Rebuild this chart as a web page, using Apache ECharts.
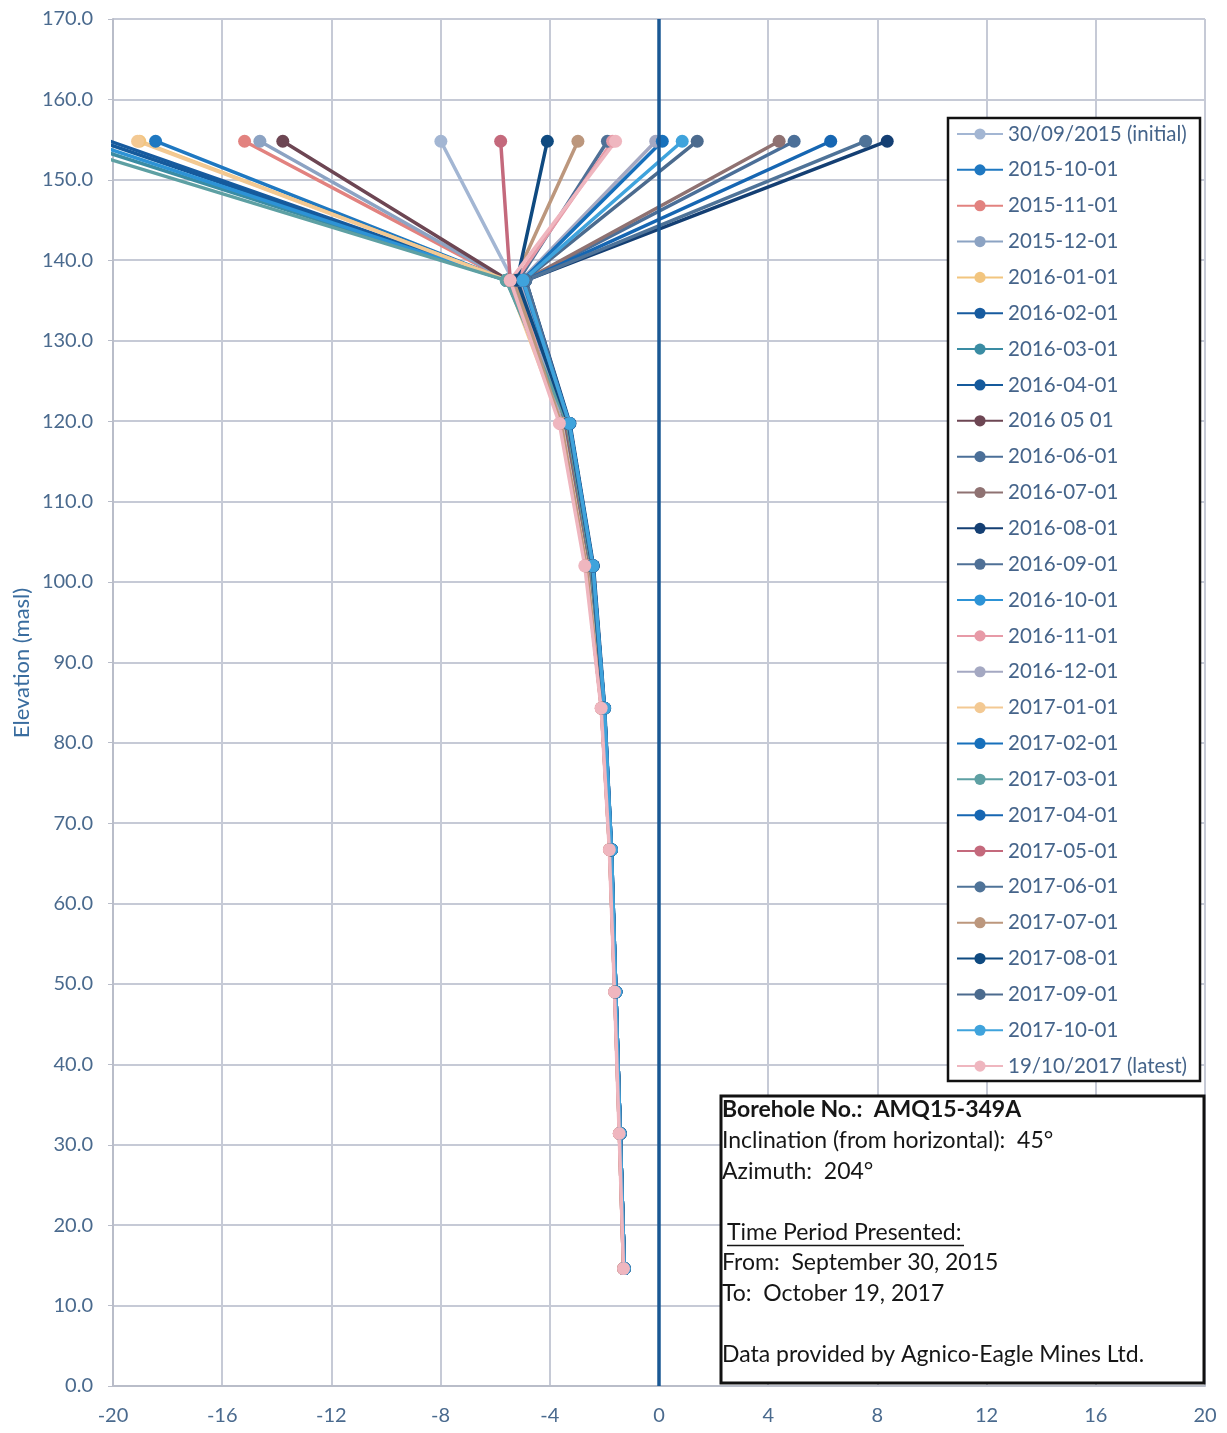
<!DOCTYPE html>
<html>
<head>
<meta charset="utf-8">
<script src="https://cdn.jsdelivr.net/npm/echarts@6/dist/echarts.min.js"></script>
<style>html,body{margin:0;padding:0;background:#fff;}#c{width:1227px;height:1433px;}</style>
</head>
<body>
<div id="c"></div>
<script>
// Elevation (masl) of each survey point (shared by all readings)
const elevations = [154.8, 137.5, 119.7, 102.0, 84.3, 66.7, 49.0, 31.4, 14.6];

// Series names (legend order)
const seriesNames = [
  '30/09/2015 (initial)','2015-10-01','2015-11-01','2015-12-01','2016-01-01','2016-02-01',
  '2016-03-01','2016-04-01','2016 05 01','2016-06-01','2016-07-01','2016-08-01','2016-09-01',
  '2016-10-01','2016-11-01','2016-12-01','2017-01-01','2017-02-01','2017-03-01','2017-04-01',
  '2017-05-01','2017-06-01','2017-07-01','2017-08-01','2017-09-01','2017-10-01','19/10/2017 (latest)'
];

// Horizontal offset (m) at each elevation, one array per reading
const x_20150930 = [-7.99, -5.35, -3.45, -2.55, -2.05, -1.78, -1.60, -1.43, -1.28];
const x_20151001 = [-18.44, -5.55, -3.28, -2.42, -2.00, -1.74, -1.58, -1.42, -1.27];
const x_20151101 = [-15.18, -5.55, -3.50, -2.60, -2.08, -1.80, -1.61, -1.44, -1.29];
const x_20151201 = [-14.62, -5.55, -3.40, -2.52, -2.04, -1.77, -1.60, -1.43, -1.28];
const x_20160101 = [-19.02, -5.55, -3.45, -2.55, -2.05, -1.78, -1.60, -1.43, -1.28];
const x_20160201 = [-20.10, -5.58, -3.30, -2.44, -2.01, -1.75, -1.58, -1.42, -1.27];
const x_20160301 = [-21.50, -5.58, -3.32, -2.45, -2.02, -1.75, -1.59, -1.42, -1.27];
const x_20160401 = [-20.50, -5.58, -3.28, -2.42, -2.00, -1.74, -1.58, -1.42, -1.27];
const x_20160501 = [-13.78, -5.52, -3.50, -2.60, -2.08, -1.80, -1.61, -1.44, -1.29];
const x_20160601 = [4.95, -4.90, -3.30, -2.44, -2.01, -1.75, -1.58, -1.42, -1.27];
const x_20160701 = [4.40, -4.92, -3.40, -2.52, -2.04, -1.77, -1.60, -1.43, -1.28];
const x_20160801 = [8.36, -4.88, -3.26, -2.40, -1.99, -1.74, -1.58, -1.42, -1.27];
const x_20160901 = [-1.89, -5.15, -3.35, -2.48, -2.02, -1.76, -1.59, -1.42, -1.27];
const x_20161001 = [-21.00, -5.58, -3.30, -2.44, -2.01, -1.75, -1.58, -1.42, -1.27];
const x_20161101 = [-1.70, -5.25, -3.60, -2.68, -2.11, -1.81, -1.62, -1.45, -1.30];
const x_20161201 = [-0.12, -5.05, -3.55, -2.65, -2.10, -1.80, -1.62, -1.45, -1.30];
const x_20170101 = [-19.10, -5.55, -3.58, -2.66, -2.10, -1.81, -1.62, -1.45, -1.30];
const x_20170201 = [0.12, -5.00, -3.30, -2.44, -2.01, -1.75, -1.58, -1.42, -1.27];
const x_20170301 = [-22.30, -5.60, -3.35, -2.48, -2.02, -1.76, -1.59, -1.42, -1.27];
const x_20170401 = [6.29, -4.90, -3.28, -2.42, -2.00, -1.74, -1.58, -1.42, -1.27];
const x_20170501 = [-5.80, -5.45, -3.60, -2.68, -2.11, -1.81, -1.62, -1.45, -1.30];
const x_20170601 = [7.57, -4.88, -3.30, -2.44, -2.01, -1.75, -1.58, -1.42, -1.27];
const x_20170701 = [-2.97, -5.30, -3.60, -2.68, -2.11, -1.81, -1.62, -1.45, -1.30];
const x_20170801 = [-4.09, -5.20, -3.32, -2.45, -2.02, -1.75, -1.59, -1.42, -1.27];
const x_20170901 = [1.40, -4.95, -3.30, -2.44, -2.01, -1.75, -1.58, -1.42, -1.27];
const x_20171001 = [0.85, -4.98, -3.28, -2.42, -2.00, -1.74, -1.58, -1.42, -1.27];
const x_20171019 = [-1.59, -5.45, -3.65, -2.72, -2.12, -1.82, -1.63, -1.46, -1.30];

const seriesX = [x_20150930,x_20151001,x_20151101,x_20151201,x_20160101,x_20160201,x_20160301,
  x_20160401,x_20160501,x_20160601,x_20160701,x_20160801,x_20160901,x_20161001,x_20161101,
  x_20161201,x_20170101,x_20170201,x_20170301,x_20170401,x_20170501,x_20170601,x_20170701,
  x_20170801,x_20170901,x_20171001,x_20171019];

const seriesColors = ['#a3b6d3','#1f78c1','#e2827f','#8ca3c3','#f2c57f','#175b9f','#3a8ca3',
  '#155a9c','#6d4653','#4b6f98','#8f7272','#143f73','#4f7096','#2d93d6','#e79aa7','#a4a8c2',
  '#f3c993','#1770bb','#5ea0a3','#1666b2','#c4697c','#4f7398','#bc977d','#0f4a80','#4c6b8e',
  '#3fa3dc','#efb6bf'];

const xTicks = {min: -20, max: 20, interval: 4};
const yTicks = {min: 0, max: 170, interval: 10};

const FONT = 'Lato, "Open Sans", sans-serif';
const chart = echarts.init(document.getElementById('c'), null, {renderer: 'canvas'});

const series = seriesNames.map((name, i) => {
  const s = {
    name: name,
    type: 'line',
    data: seriesX[i].map((x, k) => [x, elevations[k]]),
    symbol: 'circle',
    symbolSize: 13,
    showSymbol: true,
    clip: true,
    color: seriesColors[i],
    lineStyle: {width: 3.5, color: seriesColors[i]},
    itemStyle: {color: seriesColors[i]},
    emphasis: {disabled: true},
    z: 2
  };
  if (i === 0) {
    s.markLine = {
      silent: true, symbol: 'none',
      label: {show: false},
      lineStyle: {color: '#1a5894', width: 3.5, type: 'solid'},
      data: [{xAxis: 0}]
    };
  }
  return s;
});

const boxX = 721, boxY = 1096, lh = 30.6;
const infoLines = [
  {t: 'Borehole No.:  AMQ15-349A', bold: true, y: 0},
  {t: 'Inclination (from horizontal):  45°', y: 1},
  {t: 'Azimuth:  204°', y: 2},
  {t: 'Time Period Presented:', y: 4, u: true},
  {t: 'From:  September 30, 2015', y: 5},
  {t: 'To:  October 19, 2017', y: 6},
  {t: 'Data provided by Agnico-Eagle Mines Ltd.', y: 8}
];

const graphics = [
  {type: 'rect', z: 3, shape: {x: 948, y: 118, width: 252, height: 963},
   style: {fill: '#fff', stroke: '#111', lineWidth: 2.5}},
  {type: 'rect', z: 10, shape: {x: boxX, y: boxY, width: 483, height: 287},
   style: {fill: '#fff', stroke: '#111', lineWidth: 3}},
  {type: 'text', z: 11, x: 22, y: 663, rotation: Math.PI / 2,
   style: {text: 'Elevation (masl)', fill: '#3a6d9f', font: '22px ' + FONT,
           textAlign: 'center', textVerticalAlign: 'middle'}}
];
infoLines.forEach(l => {
  graphics.push({type: 'text', z: 11, x: boxX + (l.u ? 6 : 1), y: boxY + 14 + l.y * lh,
    style: {text: l.t, fill: '#161616', font: (l.bold ? 'bold ' : '') + '23px ' + FONT,
            textVerticalAlign: 'middle'}});
});
graphics.push({type: 'line', z: 11,
  shape: {x1: boxX + 6, y1: boxY + 14 + 4 * lh + 13, x2: boxX + 243, y2: boxY + 14 + 4 * lh + 13},
  style: {stroke: '#161616', lineWidth: 1.5}});

chart.setOption({
  animation: false,
  backgroundColor: '#fff',
  grid: {left: 113, right: 22, top: 19, bottom: 47, containLabel: false},
  xAxis: {
    type: 'value', min: xTicks.min, max: xTicks.max, interval: xTicks.interval,
    axisLine: {show: true, onZero: false, lineStyle: {color: '#b9bdc9', width: 2}},
    axisTick: {show: false},
    axisLabel: {color: '#4a6a8e', fontSize: 20, fontFamily: FONT, margin: 20},
    splitLine: {show: true, lineStyle: {color: '#c6cad6', width: 2}}
  },
  yAxis: {
    type: 'value', min: yTicks.min, max: yTicks.max, interval: yTicks.interval,
    axisLine: {show: true, onZero: false, lineStyle: {color: '#b9bdc9', width: 2}},
    axisTick: {show: true, length: 5, lineStyle: {color: '#b9bdc9'}},
    axisLabel: {color: '#4a6a8e', fontSize: 20, fontFamily: FONT, margin: 20,
                formatter: v => v.toFixed(1)},
    splitLine: {show: true, lineStyle: {color: '#c6cad6', width: 2}}
  },
  legend: {
    show: true, orient: 'vertical', left: 948, top: 118,
    padding: [5, 10, 5, 8],
    itemWidth: 46, itemHeight: 14, itemGap: 13.85,
    selectedMode: false, z: 4,
    textStyle: {color: '#45648a', fontSize: 20.5, fontFamily: FONT, lineHeight: 22},
    data: seriesNames
  },
  graphic: graphics,
  series: series
});
</script>
</body>
</html>
